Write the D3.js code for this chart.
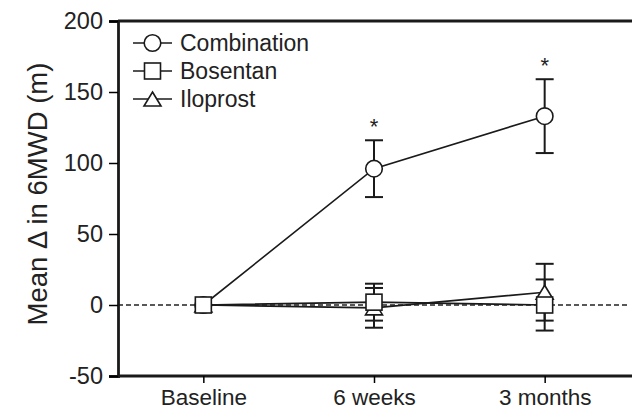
<!DOCTYPE html>
<html>
<head>
<meta charset="utf-8">
<script src="https://cdn.jsdelivr.net/npm/d3@7"></script>
<style>
  body { margin: 0; background: #fff; }
  text { font-family: "Liberation Sans", Arial, sans-serif; fill: #222; }
</style>
</head>
<body>
<svg id="chart" width="632" height="411"></svg>
<script>
const categories = ["Baseline", "6 weeks", "3 months"];
const combination = [0, 96, 133];
const combinationErr = [0, 20, 26];
const bosentan = [0, 2, 0];
const bosentanErr = [0, 13, 18];
const iloprost = [0, -2, 9];
const iloprostErr = [0, 14, 20];
const significant = ["6 weeks", "3 months"];
const yTicks = [-50, 0, 50, 100, 150, 200];

const series = [
    {name: "Combination", shape: "circle", values: combination, err: combinationErr},
    {name: "Iloprost", shape: "triangle", values: iloprost, err: iloprostErr},
    {name: "Bosentan", shape: "square", values: bosentan, err: bosentanErr}
];
const legendOrder = ["Combination", "Bosentan", "Iloprost"];

const svg = d3.select("#chart");
const margin = {left: 118, right: 632, top: 21, bottom: 376};

const x = d3.scalePoint()
    .domain(categories)
    .range([margin.left, 630])
    .padding(0.5);

const y = d3.scaleLinear()
    .domain([-50, 200])
    .range([margin.bottom, margin.top]);

// draws one marker at (cx, cy)
function marker(g, shape, cx, cy) {
    if (shape === "circle") {
        g.append("circle").attr("cx", cx).attr("cy", cy).attr("r", 8.3);
    } else if (shape === "square") {
        g.append("rect").attr("x", cx - 8).attr("y", cy - 8).attr("width", 16).attr("height", 16);
    } else {
        const w = 8.5, h = 7;
        g.append("path").attr("d", `M${cx},${cy - h}L${cx + w},${cy + h}L${cx - w},${cy + h}Z`);
    }
}

// zero reference line
svg.append("line")
    .attr("x1", margin.left).attr("x2", 630)
    .attr("y1", y(0)).attr("y2", y(0))
    .attr("stroke", "#222").attr("stroke-width", 1.3)
    .attr("stroke-dasharray", "5,3");

// series lines
const line = d3.line()
    .x((d, i) => x(categories[i]))
    .y(d => y(d));

svg.append("g")
    .selectAll("path")
    .data(series)
    .join("path")
    .attr("d", d => line(d.values))
    .attr("fill", "none")
    .attr("stroke", "#1a1a1a")
    .attr("stroke-width", 1.6);

// error bars
const errG = svg.append("g").attr("stroke", "#1a1a1a").attr("stroke-width", 2);
series.forEach(s => {
    s.values.forEach((v, i) => {
        if (!s.err[i]) return;
        const cx = x(categories[i]);
        const top = y(v + s.err[i]), bot = y(v - s.err[i]);
        errG.append("line").attr("x1", cx).attr("x2", cx).attr("y1", top).attr("y2", bot);
        errG.append("line").attr("x1", cx - 9).attr("x2", cx + 9).attr("y1", top).attr("y2", top);
        errG.append("line").attr("x1", cx - 9).attr("x2", cx + 9).attr("y1", bot).attr("y2", bot);
    });
});

// markers
const markG = svg.append("g").attr("fill", "#fff").attr("stroke", "#1a1a1a").attr("stroke-width", 1.6);
series.forEach(s => {
    s.values.forEach((v, i) => marker(markG, s.shape, x(categories[i]), y(v)));
});

// significance stars
significant.forEach(c => {
    const i = categories.indexOf(c);
    svg.append("text")
        .attr("x", x(c))
        .attr("y", y(combination[i] + combinationErr[i]) - 6)
        .attr("text-anchor", "middle")
        .attr("font-size", 22)
        .text("*");
});

// axes
const yAxis = svg.append("g")
    .attr("transform", `translate(${margin.left},0)`)
    .call(d3.axisLeft(y).tickValues(yTicks).tickSize(9).tickPadding(6).tickFormat(d => String(d)));
yAxis.select(".domain").attr("stroke-width", 2.8).attr("stroke", "#1a1a1a");
yAxis.selectAll(".tick line").attr("stroke-width", 1.5);
yAxis.selectAll("text").attr("font-size", 23.5).attr("fill", "#222");

const xAxis = svg.append("g")
    .attr("transform", `translate(0,${margin.bottom})`)
    .call(d3.axisBottom(x).tickSize(7).tickPadding(6).tickSizeOuter(0));
xAxis.select(".domain").attr("stroke-width", 2.8).attr("stroke", "#1a1a1a")
    .attr("d", `M${margin.left},0H632`);
xAxis.selectAll(".tick line").attr("stroke-width", 1.5);
xAxis.selectAll("text").attr("font-size", 22.5).attr("fill", "#222");
yAxis.attr("font-family", null);
xAxis.attr("font-family", null);

// top frame
svg.append("line")
    .attr("x1", margin.left).attr("x2", 632)
    .attr("y1", margin.top).attr("y2", margin.top)
    .attr("stroke", "#1a1a1a").attr("stroke-width", 2.8);

// y title
svg.append("text")
    .attr("transform", `translate(47,194) rotate(-90)`)
    .attr("text-anchor", "middle")
    .attr("font-size", 27.5)
    .text("Mean \u0394 in 6MWD (m)");

// legend
const leg = svg.append("g");
legendOrder.forEach((name, k) => {
    const s = series.find(d => d.name === name);
    const ly = 43 + k * 28;
    leg.append("line")
        .attr("x1", 133).attr("x2", 172).attr("y1", ly).attr("y2", ly)
        .attr("stroke", "#1a1a1a").attr("stroke-width", 1.6);
    const mg = leg.append("g").attr("fill", "#fff").attr("stroke", "#1a1a1a").attr("stroke-width", 1.6);
    marker(mg, s.shape, 152.5, ly);
    leg.append("text")
        .attr("x", 180).attr("y", ly + 8)
        .attr("font-size", 23)
        .text(name);
});
</script>
</body>
</html>
